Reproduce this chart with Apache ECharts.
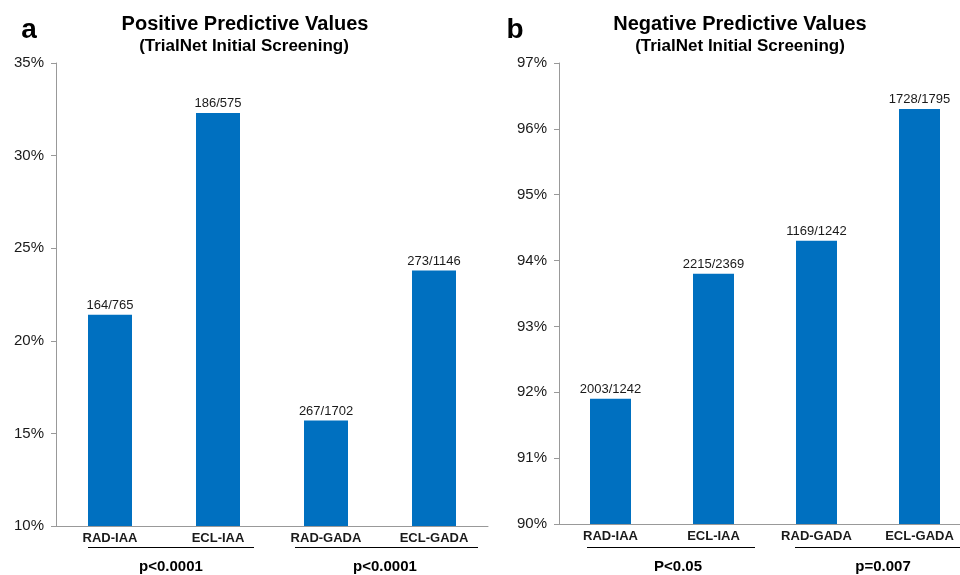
<!DOCTYPE html>
<html>
<head>
<meta charset="utf-8">
<script src="https://cdn.jsdelivr.net/npm/echarts@6/dist/echarts.min.js"></script>
<style>
  html, body { margin: 0; padding: 0; background: #fff; }
  #chart { width: 960px; height: 575px; }
</style>
</head>
<body>
<div id="chart"></div>
<script>
const categories = ["RAD-IAA", "ECL-IAA", "RAD-GADA", "ECL-GADA"];
const ppvValues = [21.4, 32.3, 15.7, 23.8];
const ppvLabels = ["164/765", "186/575", "267/1702", "273/1146"];
const npvValues = [91.9, 93.8, 94.3, 96.3];
const npvLabels = ["2003/1242", "2215/2369", "1169/1242", "1728/1795"];
const pValuesA = ["p<0.0001", "p<0.0001"];
const pValuesB = ["P<0.05", "p=0.007"];

const font = "Liberation Sans, Arial, sans-serif";
const barColor = "#0070C0";
const textColor = "#1a1a1a";

const chart = echarts.init(document.getElementById("chart"));

const xAxisStyle = (gridIndex) => ({
  type: "category",
  gridIndex: gridIndex,
  data: categories,
  axisTick: { show: false },
  axisLine: { lineStyle: { color: "#999", width: 1 } },
  axisLabel: {
    interval: 0,
    color: textColor,
    fontFamily: font,
    fontWeight: "bold",
    fontSize: 13,
    margin: 6,
  },
});

const yAxisStyle = (gridIndex, min, max, interval) => ({
  type: "value",
  gridIndex: gridIndex,
  min: min,
  max: max,
  interval: interval,
  axisLine: { show: true, lineStyle: { color: "#999", width: 1 } },
  axisTick: { show: true, length: 5, lineStyle: { color: "#999" } },
  splitLine: { show: false },
  axisLabel: {
    color: textColor,
    fontFamily: font,
    fontSize: 15,
    margin: 12,
    formatter: "{value}%",
  },
});

const barSeries = (idx, values, labels, width) => ({
  type: "bar",
  xAxisIndex: idx,
  yAxisIndex: idx,
  data: values,
  barWidth: width,
  itemStyle: { color: barColor },
  label: {
    show: true,
    position: "top",
    distance: 3,
    color: textColor,
    fontFamily: font,
    fontSize: 13,
    formatter: (p) => labels[p.dataIndex],
  },
});

const text = (x, y, str, size, weight, align) => ({
  type: "text",
  x: x,
  y: y,
  style: {
    text: str,
    fill: "#000",
    font: `${weight} ${size}px ${font}`,
    textAlign: align || "center",
    textVerticalAlign: "middle",
  },
});

const hline = (x1, x2, y) => ({
  type: "line",
  shape: { x1: x1, y1: y, x2: x2, y2: y },
  style: { stroke: "#000", lineWidth: 1 },
});

chart.setOption({
  animation: false,
  grid: [
    { left: 56, top: 63, width: 432, height: 463, outerBoundsMode: "none" },
    { left: 559, top: 63, width: 412, height: 461, outerBoundsMode: "none" },
  ],
  xAxis: [xAxisStyle(0), xAxisStyle(1)],
  yAxis: [yAxisStyle(0, 10, 35, 5), yAxisStyle(1, 90, 97, 1)],
  series: [
    barSeries(0, ppvValues, ppvLabels, 44),
    barSeries(1, npvValues, npvLabels, 41),
  ],
  graphic: [
    text(29, 30, "a", 28, "bold"),
    text(515, 30, "b", 28, "bold"),
    text(245, 24, "Positive Predictive Values", 20, "bold"),
    text(244, 46, "(TrialNet Initial Screening)", 17, "bold"),
    text(740, 24, "Negative Predictive Values", 20, "bold"),
    text(740, 46, "(TrialNet Initial Screening)", 17, "bold"),
    hline(88, 254, 547.5),
    hline(295, 478, 547.5),
    hline(587, 755, 547.5),
    hline(795, 960, 547.5),
    text(171, 567, pValuesA[0], 15, "bold"),
    text(385, 567, pValuesA[1], 15, "bold"),
    text(678, 567, pValuesB[0], 15, "bold"),
    text(883, 567, pValuesB[1], 15, "bold"),
  ],
});
</script>
</body>
</html>
